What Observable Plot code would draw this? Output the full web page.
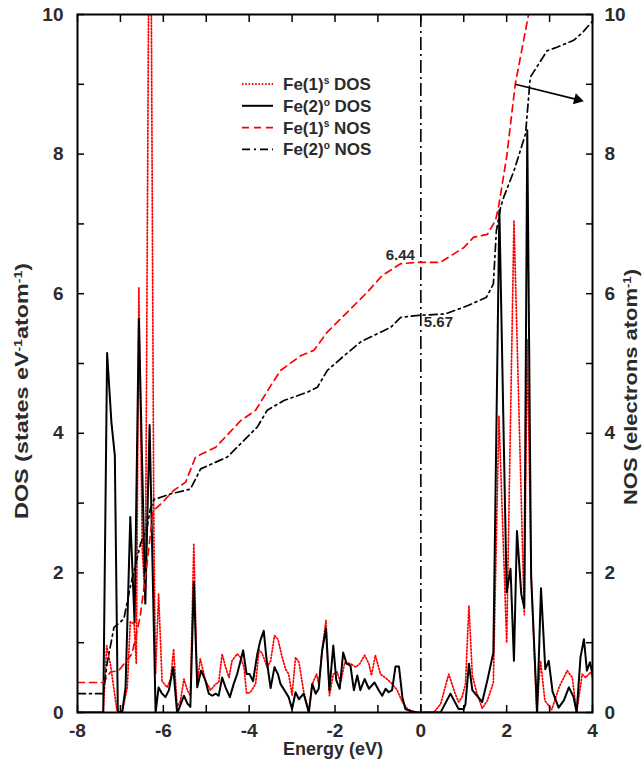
<!DOCTYPE html>
<html>
<head>
<meta charset="utf-8">
<script src="https://cdn.jsdelivr.net/npm/d3@7"></script>
<script src="https://cdn.jsdelivr.net/npm/@observablehq/plot@0.6"></script>
<style>
  html, body { margin: 0; padding: 0; background: #fff; }
  #chart { width: 644px; height: 764px; }
</style>
</head>
<body>
<div id="chart"></div>
<script>
// ---- Data (energy in eV, value) ----
const fe1sDos = [
  [-8,0],[-7.40,0],[-7.32,0.96],[-7.23,0.68],[-7.08,0.03],[-6.96,0],[-6.84,0.36],[-6.77,1.30],
  [-6.68,1.27],[-6.63,0.70],[-6.57,6.09],[-6.49,2.32],[-6.42,1.60],[-6.31,14],[-6.22,2.50],
  [-6.18,0.55],[-6.11,1.70],[-6.03,0.45],[-5.91,0.36],[-5.83,0.48],[-5.76,0.91],[-5.68,0.08],
  [-5.60,0.17],[-5.52,0.48],[-5.44,0.32],[-5.37,0.24],[-5.29,2.42],[-5.21,0.40],[-5.14,0.77],
  [-5.02,0.46],[-4.90,0.32],[-4.78,0.41],[-4.71,0.43],[-4.63,0.84],[-4.55,0.65],[-4.47,0.50],
  [-4.40,0.74],[-4.28,0.84],[-4.20,0.79],[-4.12,0.65],[-4.06,0.27],[-3.97,0.29],[-3.85,0.41],
  [-3.77,0.90],[-3.70,0.85],[-3.58,0.65],[-3.50,0.74],[-3.41,1.10],[-3.33,1.05],[-3.23,0.79],
  [-3.15,0.62],[-3.08,0.55],[-3.00,0.25],[-2.92,0.79],[-2.84,0.72],[-2.73,0.30],[-2.61,0.02],
  [-2.53,0.41],[-2.43,0.55],[-2.38,0.41],[-2.29,0.94],[-2.21,1.32],[-2.13,0.24],[-2.04,0.55],
  [-1.95,0.58],[-1.87,0.43],[-1.77,0.72],[-1.64,0.70],[-1.52,0.65],[-1.42,0.70],[-1.31,0.82],
  [-1.21,0.70],[-1.15,0.53],[-1.06,0.82],[-0.94,0.55],[-0.79,0.48],[-0.67,0.41],[-0.55,0.32],
  [-0.43,0.15],[-0.31,0.05],[-0.15,0.01],[-0.05,0],[0.30,0],[0.46,0.12],[0.65,0.55],[0.80,0.27],
  [0.88,0.15],[0.96,0.22],[1.04,0.41],[1.12,1.53],[1.20,0.53],[1.30,0.29],[1.43,0.06],[1.55,0.17],
  [1.69,0.43],[1.82,4.25],[2.00,1.00],[2.17,7.05],[2.41,1.40],[2.48,5.35],[2.57,2.00],[2.70,0],
  [2.79,0.74],[2.89,0.17],[3.05,0.04],[3.22,0.36],[3.41,0.60],[3.53,0.50],[3.63,0],[3.76,0.55],
  [3.84,0.50],[3.96,0.58],[4.00,0.50]
];
const fe2oDos = [
  [-8,0],[-7.40,0],[-7.31,5.15],[-7.21,4.16],[-7.13,3.68],[-7.06,0],[-6.96,0],[-6.88,0.36],
  [-6.77,2.80],[-6.67,1.29],[-6.57,5.64],[-6.42,1.56],[-6.32,4.12],[-6.18,0],[-6.11,0.36],
  [-6.03,0.27],[-5.95,0.22],[-5.87,0.32],[-5.77,0.65],[-5.68,0],[-5.65,0.03],[-5.52,0.24],
  [-5.44,0.13],[-5.37,0.08],[-5.29,1.87],[-5.21,0.36],[-5.12,0.60],[-5.02,0.46],[-4.94,0.27],
  [-4.86,0.24],[-4.78,0.27],[-4.71,0.24],[-4.63,0.50],[-4.55,0.36],[-4.45,0.22],[-4.36,0.41],
  [-4.28,0.55],[-4.20,0.74],[-4.14,0.89],[-4.06,0.55],[-3.99,0.55],[-3.91,0.45],[-3.81,0.84],
  [-3.74,1.03],[-3.66,1.17],[-3.60,0.79],[-3.50,0.35],[-3.41,0.65],[-3.33,0.55],[-3.27,0.41],
  [-3.15,0.29],[-3.08,0.22],[-3.00,0.05],[-2.92,0.29],[-2.84,0.19],[-2.73,0.27],[-2.61,0],
  [-2.53,0.41],[-2.45,0.27],[-2.38,0.34],[-2.30,0.89],[-2.21,1.20],[-2.13,0.32],[-2.04,0.96],
  [-1.97,0.46],[-1.89,0.34],[-1.81,0.86],[-1.73,0.70],[-1.64,0.67],[-1.56,0.32],[-1.48,0.53],
  [-1.41,0.32],[-1.31,0.48],[-1.21,0.34],[-1.08,0.43],[-0.98,0.32],[-0.90,0.24],[-0.82,0.34],
  [-0.75,0.29],[-0.67,0.32],[-0.59,0.66],[-0.51,0.66],[-0.43,0.22],[-0.36,0.05],[-0.24,0.02],
  [-0.09,0],[0.46,0],[0.69,0.27],[0.88,0.05],[1.00,0.05],[1.04,0.12],[1.12,0.70],[1.20,0.32],
  [1.31,0.24],[1.43,0.15],[1.55,0.46],[1.69,0.86],[1.83,7.20],[2.00,1.72],[2.09,2.06],[2.17,0.74],
  [2.24,2.60],[2.34,1.70],[2.41,1.50],[2.48,8.34],[2.57,1.95],[2.71,0],[2.80,1.78],[2.90,0.62],
  [2.98,0.74],[3.07,0.30],[3.21,0.07],[3.33,0.17],[3.45,0.36],[3.56,0.22],[3.63,0],[3.72,0.79],
  [3.80,1.05],[3.87,0.60],[3.94,0.72],[4.00,0.55]
];
const fe1sNos = [
  [-8,0.43],[-7.40,0.43],[-7.23,0.58],[-7.04,0.60],[-6.73,0.84],[-6.54,1.37],[-6.38,2.13],
  [-6.24,2.89],[-6.07,2.98],[-5.76,3.18],[-5.48,3.30],[-5.25,3.66],[-4.78,3.80],[-4.20,4.18],
  [-3.85,4.33],[-3.50,4.68],[-3.27,4.90],[-2.80,5.11],[-2.49,5.19],[-2.18,5.45],[-1.72,5.73],
  [-1.25,6.02],[-0.90,6.26],[-0.47,6.43],[-0.05,6.45],[0.46,6.45],[1.00,6.66],[1.23,6.81],
  [1.55,6.85],[1.74,7.05],[1.81,7.24],[2.00,7.96],[2.20,9.00],[2.51,10.0],[2.70,10.6]
];
const fe2oNos = [
  [-8,0.27],[-7.40,0.27],[-7.31,0.70],[-7.15,1.22],[-6.92,1.34],[-6.77,1.80],[-6.53,2.42],
  [-6.38,2.65],[-6.30,2.92],[-6.22,3.05],[-5.84,3.13],[-5.37,3.20],[-5.13,3.49],[-4.51,3.66],
  [-4.20,3.85],[-3.81,4.09],[-3.58,4.33],[-3.19,4.47],[-2.64,4.59],[-2.41,4.66],[-2.18,4.90],
  [-1.79,5.11],[-1.40,5.31],[-0.70,5.52],[-0.47,5.66],[-0.05,5.69],[0.57,5.71],[1.10,5.83],
  [1.53,5.95],[1.69,6.14],[1.76,6.90],[1.86,7.24],[1.93,7.38],[2.17,7.76],[2.44,8.29],
  [2.55,9.10],[2.94,9.48],[3.17,9.53],[3.56,9.63],[3.75,9.73],[3.95,9.87],[4.00,9.90]
];
const fermiLevel = [0];
const nosAtFermi = [6.44, 5.67];
const arrowSeg = [{x1: 2.2, y1: 9.0, x2: 3.72, y2: 8.77}];
const xTicksMinor = d3.range(-8, 5, 1);
const xTickLabels = [-8, -6, -4, -2, 0, 2, 4];
const yTicksMinor = d3.range(0, 11, 1);
const yTickLabels = [0, 2, 4, 6, 8, 10];
const legendItems = [
  {name: "Fe(1)", sup: "s", rest: " DOS", stroke: "#ff0000", dash: "1.5,1.8", width: 1.8},
  {name: "Fe(2)", sup: "o", rest: " DOS", stroke: "#000", dash: null, width: 2},
  {name: "Fe(1)", sup: "s", rest: " NOS", stroke: "#ff0000", dash: "7,5", width: 1.7},
  {name: "Fe(2)", sup: "o", rest: " NOS", stroke: "#000", dash: "8,4,2,4", width: 1.7}
];

const FONT = "'Liberation Sans', Arial, Helvetica, sans-serif";
const TXT = "#2b2b2b";

const chart = Plot.plot({
  width: 644,
  height: 764,
  marginLeft: 77,
  marginRight: 52,
  marginTop: 14,
  marginBottom: 52,
  x: {domain: [-8, 4], label: null},
  y: {domain: [0, 10], label: null},
  style: {fontFamily: FONT, fontSize: "19px", fontWeight: "bold", background: "#fff", color: "#000"},
  marks: [
    Plot.ruleX(fermiLevel, {stroke: "#000", strokeWidth: 1.6, strokeDasharray: "13,4,2,4"}),
    Plot.line(fe1sDos, {x: d => d[0], y: d => d[1], stroke: "#ff0000", strokeWidth: 1.7, strokeDasharray: "1.4,1.9", clip: true}),
    Plot.line(fe2oDos, {x: d => d[0], y: d => d[1], stroke: "#000", strokeWidth: 2, clip: true}),
    Plot.line(fe1sNos, {x: d => d[0], y: d => d[1], stroke: "#ff0000", strokeWidth: 1.7, strokeDasharray: "7,5", clip: true}),
    Plot.line(fe2oNos, {x: d => d[0], y: d => d[1], stroke: "#000", strokeWidth: 1.7, strokeDasharray: "8,4,2,4", clip: true}),
    Plot.link(arrowSeg, {x1: "x1", y1: "y1", x2: "x2", y2: "y2", stroke: "#000", strokeWidth: 1.6}),
    Plot.dot(arrowSeg, {x: "x2", y: "y2", symbol: "triangle", r: 4.2, fill: "#000", stroke: "none", rotate: 105, dx: -3, dy: -0.8}),
    Plot.text([nosAtFermi[0]], {x: 0, y: d => d, text: d => d.toFixed(2), textAnchor: "end", dx: -6, dy: -8, fill: TXT, fontSize: 15, fontWeight: "bold"}),
    Plot.text([nosAtFermi[1]], {x: 0, y: d => d, text: d => d.toFixed(2), textAnchor: "start", dx: 3, dy: 5, fill: TXT, fontSize: 15, fontWeight: "bold"}),
    Plot.frame({stroke: "#000", strokeWidth: 2}),
    Plot.axisX({ticks: xTicksMinor, tickSize: -7, tickFormat: () => "", strokeWidth: 1.5}),
    Plot.axisX({ticks: xTicksMinor, anchor: "top", tickSize: -7, tickFormat: () => "", strokeWidth: 1.5}),
    Plot.axisY({ticks: yTicksMinor, tickSize: -7, tickFormat: () => "", strokeWidth: 1.5}),
    Plot.axisY({ticks: yTicksMinor, anchor: "right", tickSize: -7, tickFormat: () => "", strokeWidth: 1.5}),
    Plot.axisX({ticks: xTickLabels, tickSize: 0, tickPadding: 11, fill: TXT, fontSize: 19, tickFormat: d => String(d)}),
    Plot.axisY({ticks: yTickLabels, tickSize: 0, tickPadding: 14, fill: TXT, fontSize: 19, tickFormat: d => String(d)}),
    Plot.axisY({ticks: yTickLabels, anchor: "right", tickSize: 0, tickPadding: 12, fill: TXT, fontSize: 19, tickFormat: d => String(d)})
  ]
});

document.getElementById("chart").appendChild(chart);

// ---- Axis titles and legend (text with superscripts) ----
const svg = d3.select(chart);
function supLabel(g, parts, size) {
  let pending = 0;
  parts.forEach(p => {
    if (p.sup) {
      const shift = size * 0.36;
      g.append("tspan").attr("font-size", size * 0.6).attr("dy", -shift + pending).text(p.t);
      pending = shift;
    } else {
      const s = g.append("tspan").attr("font-size", size).text(p.t);
      if (pending) s.attr("dy", pending);
      pending = 0;
    }
  });
}
const titles = svg.append("g").attr("font-family", FONT).attr("font-weight", "bold").attr("fill", TXT);
const lt = titles.append("text").attr("text-anchor", "middle")
  .attr("transform", "translate(28,391) rotate(-90)")
  .attr("textLength", 256).attr("lengthAdjust", "spacingAndGlyphs");
supLabel(lt, [{t: "DOS (states eV"}, {t: "-1", sup: true}, {t: "atom"}, {t: "-1", sup: true}, {t: ")"}], 18);
const rt = titles.append("text").attr("text-anchor", "middle")
  .attr("transform", "translate(637,387) rotate(-90)")
  .attr("textLength", 236).attr("lengthAdjust", "spacingAndGlyphs");
supLabel(rt, [{t: "NOS (electrons atom"}, {t: "-1", sup: true}, {t: ")"}], 18);
const bt = titles.append("text").attr("text-anchor", "middle")
  .attr("transform", "translate(333,755)");
supLabel(bt, [{t: "Energy (eV)"}], 18);

const leg = svg.append("g").attr("font-family", FONT).attr("font-weight", "bold").attr("fill", TXT);
legendItems.forEach((it, i) => {
  const yy = 84 + i * 21.8;
  leg.append("line").attr("x1", 242).attr("x2", 273).attr("y1", yy).attr("y2", yy)
    .attr("stroke", it.stroke).attr("stroke-width", it.width)
    .attr("stroke-dasharray", it.dash);
  const t = leg.append("text").attr("x", 283).attr("y", yy + 6).attr("text-anchor", "start");
  supLabel(t, [{t: it.name}, {t: it.sup, sup: true}, {t: it.rest}], 17);
});
</script>
</body>
</html>
